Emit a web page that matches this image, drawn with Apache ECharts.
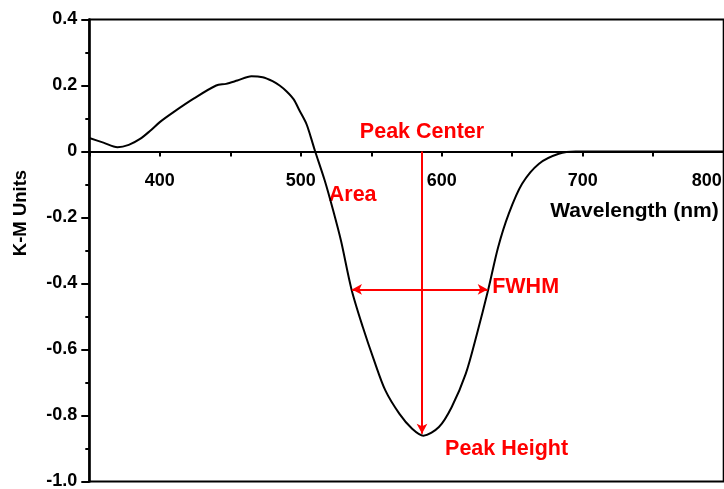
<!DOCTYPE html>
<html>
<head>
<meta charset="utf-8">
<script src="https://cdn.jsdelivr.net/npm/echarts@6/dist/echarts.min.js"></script>
<style>html,body{margin:0;padding:0;background:#fff}#c{width:724px;height:489px}</style>
</head>
<body>
<div id="c"></div>
<script>
// Spectrum (wavelength nm -> K-M units)
const wavelengths = [350,360,370,378,386,393,400,410,424,440,447,455,465,473,480,485,490,495,499,504,507,510,517,523,528.5,536,544,552,560,570,579,587,598,607,617,625,633,640,647.5,657,669,683,695,710,750,800];
const kmValues    = [0.041,0.027,0.013,0.02,0.038,0.062,0.089,0.12,0.16,0.2,0.205,0.215,0.228,0.225,0.213,0.2,0.182,0.158,0.125,0.084,0.045,0.003,-0.088,-0.179,-0.27,-0.418,-0.532,-0.633,-0.724,-0.795,-0.84,-0.861,-0.835,-0.775,-0.674,-0.552,-0.418,-0.29,-0.189,-0.098,-0.037,-0.007,0,0,0,0];

// Annotation geometry in data units
const peakCenter = 586;        // nm
const peakHeight = -0.855;     // K-M
const fwhmLevel = -0.418;
const fwhmLeft = 536.3;
const fwhmRight = 632.6;

// Annotation labels (text, wavelength, value)
const annoTexts = ['Peak Center','Area','FWHM','Peak Height'];
const annoX = [586, 536.8, 659.5, 646];
const annoY = [0.058, -0.133, -0.412, -0.903];

const xTickLabels = [400,500,600,700,800];
const yMin = -1, yMax = 0.4, xMin = 350, xMax = 800;

const FONT = 'Liberation Sans, Arial, sans-serif';
const H = 489, gridTop = 19.5, gridBottom = 7.5;
const gridH = H - gridTop - gridBottom;
// place the x axis (line, ticks, labels) at value 0 of the y axis
const xAxisOffset = -gridH * (0 - yMin) / (yMax - yMin);

const lblStyle = {color:'#000', fontSize:18, fontWeight:'bold', fontFamily:FONT};

const chart = echarts.init(document.getElementById('c'), null, {renderer:'canvas'});
chart.setOption({
  animation:false,
  backgroundColor:'#fff',
  grid:{left:89.3, right:0.3, top:gridTop, bottom:gridBottom, containLabel:false, outerBoundsMode:'none',
        show:true, borderColor:'#000', borderWidth:2, backgroundColor:'transparent'},
  xAxis:{
    type:'value', min:xMin, max:xMax, interval:50, position:'bottom', offset:xAxisOffset,
    axisLine:{onZero:false, lineStyle:{color:'#000', width:2}},
    axisTick:{show:true, length:5, lineStyle:{color:'#000', width:2}},
    splitLine:{show:false},
    axisLabel:Object.assign({
      margin:20.5, showMinLabel:true, showMaxLabel:true, hideOverlap:false,
      formatter:function(v){
        if (xTickLabels.indexOf(v) < 0) return '';
        return v === xMax ? '{edge|' + v + '}' : String(v);
      },
      rich:{edge:Object.assign({padding:[0,34,0,0]}, lblStyle)}
    }, lblStyle),
    name:'Wavelength (nm)', nameLocation:'end', nameGap:-5,
    nameTextStyle:{color:'#000', fontSize:21, fontWeight:'bold', fontFamily:FONT, align:'right', verticalAlign:'top', padding:[49,0,0,0]}
  },
  yAxis:{
    type:'value', min:yMin, max:yMax, interval:0.2,
    axisLine:{show:true, onZero:false, lineStyle:{color:'#000', width:2.5}},
    axisTick:{show:true, length:8, lineStyle:{color:'#000', width:2}},
    minorTick:{show:true, splitNumber:2, length:4, lineStyle:{color:'#000', width:2}},
    splitLine:{show:false},
    axisLabel:Object.assign({margin:12,
      formatter:function(v){ return Math.abs(v)<1e-9 ? '0' : v.toFixed(1); }}, lblStyle),
    name:'K-M Units', nameLocation:'middle', nameGap:59, nameRotate:90,
    nameTextStyle:{color:'#000', fontSize:18.5, fontWeight:'bold', fontFamily:FONT, padding:[0,0,0,75]}
  },
  series:[
    {
      type:'line', data:wavelengths.map((w,i)=>[w,kmValues[i]]),
      showSymbol:false, symbol:'none', smooth:0.3,
      lineStyle:{color:'#000', width:2},
      markLine:{
        silent:true, symbolSize:[8,10],
        label:{show:false},
        emphasis:{disabled:true},
        lineStyle:{color:'#ff0000', width:2, type:'solid', opacity:1},
        data:[
          [{coord:[peakCenter,0], symbol:'none'},{coord:[peakCenter,peakHeight], symbol:'arrow'}],
          [{coord:[fwhmLeft,fwhmLevel], symbol:'arrow'},{coord:[fwhmRight,fwhmLevel], symbol:'arrow'}]
        ]
      }
    },
    {
      type:'scatter', symbolSize:1, itemStyle:{color:'transparent'}, silent:true,
      emphasis:{disabled:true},
      data:annoTexts.map((t,i)=>({name:t, value:[annoX[i],annoY[i]]})),
      label:{show:true, position:'inside', formatter:'{b}', color:'#ff0000', opacity:1, fontSize:21.5, fontWeight:'bold', fontFamily:FONT}
    }
  ]
});
</script>
</body>
</html>
